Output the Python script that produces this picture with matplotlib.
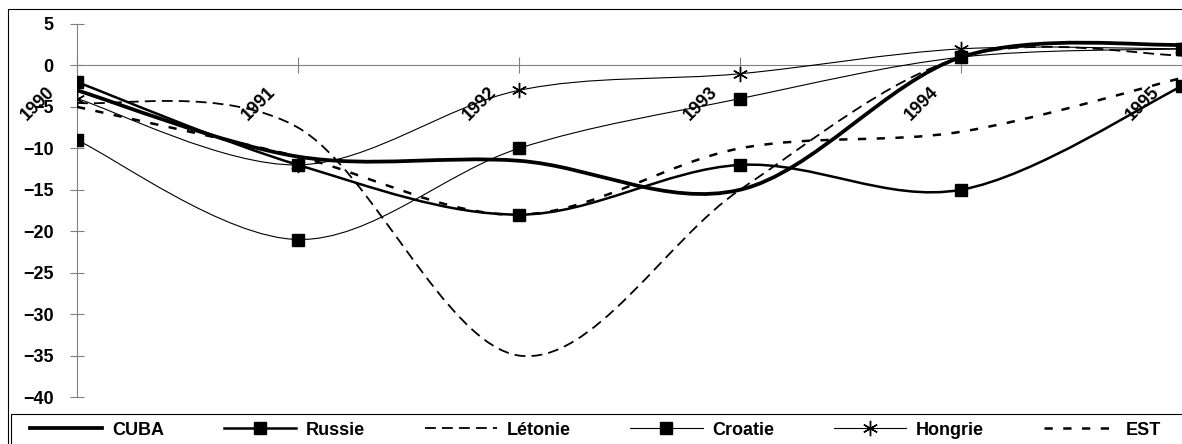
import numpy as np
import matplotlib
matplotlib.use("Agg")
import matplotlib.pyplot as plt
from matplotlib.path import Path
from matplotlib.patches import PathPatch, Rectangle
from matplotlib.lines import Line2D

plt.rcParams['font.family'] = ['Liberation Sans', 'DejaVu Sans']
plt.rcParams['font.weight'] = 'bold'

# data (growth, %)
years = [1990, 1991, 1992, 1993, 1994, 1995]
cuba = [-3, -11, -11.5, -15, 1, 2.5]
russie = [-2, -12, -18, -12, -15, -2.5]
letonie = [-4.5, -7.5, -35, -15, 1, 1.2]
croatie = [-9, -21, -10, -4, 1, 2]
hongrie = [-4, -12, -3, -1, 2, 2]
est = [-5, -11, -18, -10, -8, -1.5]
year_labels = [str(y) for y in years]

W, H = 1182, 444
fig = plt.figure(figsize=(W / 100, H / 100), dpi=100)
ax = fig.add_axes([77 / W, 1 - 397 / H, 1 - 77 / W, (397 - 24) / H])

grey = '#808080'
fs = 13


def smooth_path(xs, ys):
    # excel-like smoothed line: bezier segments through the points
    pts = np.column_stack([xs, ys]).astype(float)
    n = len(pts)
    verts = [pts[0]]
    codes = [Path.MOVETO]
    for i in range(n - 1):
        p0 = pts[max(i - 1, 0)]
        p1 = pts[i]
        p2 = pts[i + 1]
        p3 = pts[min(i + 2, n - 1)]
        verts += [p1 + (p2 - p0) / 6, p2 - (p3 - p1) / 6, p2]
        codes += [Path.CURVE4] * 3
    return Path(verts, codes)


series = [
    ("CUBA", cuba, dict(lw=2.7, ls='-'), None),
    ("Russie", russie, dict(lw=1.8, ls='-'), dict(marker='s', ms=9)),
    ("Létonie", letonie, dict(lw=1.3, ls=(0, (6, 3.4))), None),
    ("Croatie", croatie, dict(lw=0.8, ls='-'), dict(marker='s', ms=9)),
    ("Hongrie", hongrie, dict(lw=0.8, ls='-'), dict(marker=(6, 2, 0), ms=11, mew=1.0)),
    ("EST", est, dict(lw=1.8, ls=(0, (3.3, 4.2))), None),
]

handles = []
for name, vals, lstyle, mstyle in series:
    ax.add_patch(PathPatch(smooth_path(years, vals), fill=False, ec='black',
                           lw=lstyle['lw'], ls=lstyle['ls'], zorder=3))
    if mstyle:
        ax.plot(years, vals, ls='none', color='black', mfc='black', mec='black',
                zorder=4, **mstyle)
        handles.append(Line2D([], [], color='black', lw=lstyle['lw'], ls=lstyle['ls'],
                              mfc='black', mec='black', **mstyle))
    else:
        handles.append(Line2D([], [], color='black', lw=lstyle['lw'], ls=lstyle['ls']))

ax.set_xlim(1990, 1990 + (W - 77) / 222.5)
ax.set_ylim(-40, 5)

ax.spines['top'].set_visible(False)
ax.spines['right'].set_visible(False)
ax.spines['bottom'].set_position(('data', 0))
for s in ('left', 'bottom'):
    ax.spines[s].set_color(grey)
    ax.spines[s].set_linewidth(0.8)

ax.set_yticks(np.arange(-40, 6, 5))
ax.tick_params(axis='y', direction='inout', length=10, width=0.8, color=grey,
               pad=12, labelsize=fs)
ax.set_xticks(years)
ax.tick_params(axis='x', direction='inout', length=12, width=0.8, color=grey,
               labelbottom=False)

for y, lab in zip(years, year_labels):
    ax.annotate(lab, xy=(y, 0), xytext=(-19, -18), textcoords='offset pixels',
                rotation=45, ha='right', va='top', fontsize=fs, fontweight='bold',
                annotation_clip=False, zorder=5)

# chart border and legend box (right / bottom edges cropped)
fig.add_artist(Rectangle((8 / W, -0.2), 2, 1.2 - 9 / H, transform=fig.transFigure,
                         fill=False, ec='black', lw=0.8))
fig.add_artist(Rectangle((11 / W, -0.2), 2, 0.2 + 1 - 414 / H, transform=fig.transFigure,
                         fill=False, ec='black', lw=0.8))

fig.legend(handles, [s[0] for s in series], loc='center left',
           bbox_to_anchor=(30 / W, 1 - 430 / H), ncol=6, frameon=False,
           handlelength=4.0, handletextpad=0.55, columnspacing=3.3,
           borderpad=0, borderaxespad=0,
           prop=dict(family='Liberation Sans', weight='bold', size=fs))

fig.savefig("out.png", dpi=100)
